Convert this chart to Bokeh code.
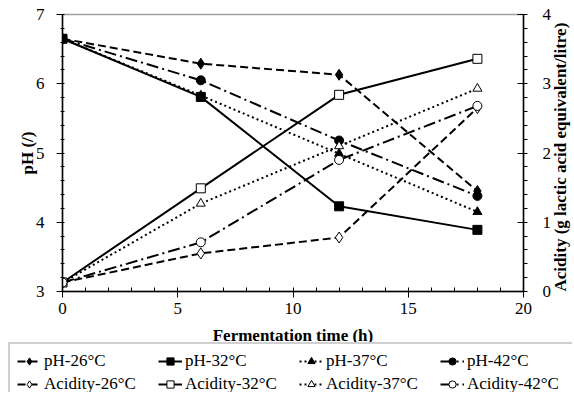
import math
from bokeh.plotting import figure
from bokeh.models import (Range1d, LinearAxis, SingleIntervalTicker, Legend, LegendItem)
from bokeh.embed import file_html
from bokeh.resources import INLINE

time_h = [0, 6, 12, 18]
ph_26 = [6.65, 6.29, 6.13, 4.45]
ph_32 = [6.65, 5.81, 4.23, 3.89]
ph_37 = [6.65, 5.83, 4.99, 4.15]
ph_42 = [6.65, 6.05, 5.18, 4.38]
ac_26 = [0.13, 0.55, 0.78, 2.65]
ac_32 = [0.13, 1.49, 2.84, 3.36]
ac_37 = [0.13, 1.27, 2.10, 2.93]
ac_42 = [0.13, 0.71, 1.90, 2.68]

FONT = "Liberation Serif"
FS = "17px"

p = figure(frame_width=461, frame_height=277, x_range=Range1d(0, 20), y_range=Range1d(3, 7),
           output_backend="svg", toolbar_location=None,
           min_border_left=62, min_border_right=48, min_border_top=14, min_border_bottom=49,
           x_axis_label="Fermentation time (h)", y_axis_label="pH (/)")
p.extra_y_ranges = {"acid": Range1d(0, 4)}
p.grid.visible = False
p.outline_line_color = "#a0a0a0"
p.outline_line_width = 1.5
p.background_fill_color = "white"
p.border_fill_color = "white"

xa = p.xaxis[0]
xa.ticker = SingleIntervalTicker(interval=5, num_minor_ticks=5)
ya = p.yaxis[0]
ya.ticker = SingleIntervalTicker(interval=1, num_minor_ticks=5)
ra = LinearAxis(y_range_name="acid", ticker=SingleIntervalTicker(interval=1, num_minor_ticks=5),
                axis_label="Acidity (g lactic acid equivalent/litre)")
p.add_layout(ra, "right")

for ax in (xa, ya, ra):
    ax.axis_line_color = "black"
    ax.axis_line_width = 1.5
    ax.major_tick_line_color = "black"
    ax.minor_tick_line_color = "black"
    ax.major_label_text_font = FONT
    ax.major_label_text_font_size = FS
    ax.major_label_text_color = "black"
    ax.axis_label_text_font = FONT
    ax.axis_label_text_font_size = "17px"
    ax.axis_label_text_font_style = "bold"
    ax.axis_label_text_color = "black"

xa.major_tick_out = 6
xa.major_tick_in = 0
xa.minor_tick_in = 4
xa.minor_tick_out = 0
xa.major_label_standoff = 5
xa.axis_label_standoff = 9

ya.major_tick_out = 6
ya.major_tick_in = 0
ya.minor_tick_in = 2
ya.minor_tick_out = 2
ya.major_label_standoff = 12
ya.axis_label_standoff = -4

ra.major_tick_out = 0
ra.major_tick_in = 6
ra.minor_tick_in = 0
ra.minor_tick_out = 4
ra.major_label_standoff = 15
ra.axis_label_standoff = 6
ra.axis_label_orientation = math.pi / 2
ra.axis_label_align = "start"
ra.axis_label_text_baseline = "top"

series = [
    ("pH-26°C", ph_26, "default", "dashed_line", "diamond", "black"),
    ("pH-32°C", ph_32, "default", "solid", "square", "black"),
    ("pH-37°C", ph_37, "default", "dotted", "triangle", "black"),
    ("pH-42°C", ph_42, "default", "dashdot", "circle", "black"),
    ("Acidity-26°C", ac_26, "acid", "dashed_line", "diamond", "white"),
    ("Acidity-32°C", ac_32, "acid", "solid", "square", "white"),
    ("Acidity-37°C", ac_37, "acid", "dotted", "triangle", "white"),
    ("Acidity-42°C", ac_42, "acid", "dashdot", "circle", "white"),
]
dashes = {"dashed_line": "8 4", "solid": "solid", "dotted": "2 3", "dashdot": "12 4 2 4"}
sizes = {"diamond": 11, "square": 9, "triangle": 9, "circle": 9}

# legend figure below the chart (separate root, stacked under the chart)
lf = figure(width=572, height=50, x_range=Range1d(0, 1), y_range=Range1d(0, 1),
            output_backend="svg", toolbar_location=None,
            min_border_left=8, min_border_right=0, min_border_top=0, min_border_bottom=0)
lf.styles = {"margin-top": "-5px"}
lf.axis.visible = False
lf.grid.visible = False
lf.outline_line_color = None
lf.background_fill_alpha = 0
lf.border_fill_alpha = 0

items = []
for label, vals, rng, dash, marker, fill in series:
    p.line(time_h, vals, y_range_name=rng, line_color="black", line_width=2,
           line_dash=dashes[dash])
    p.scatter(time_h, vals, y_range_name=rng, marker=marker, size=sizes[marker],
              line_color="black", fill_color=fill, line_width=1)
    # off-range proxies for the legend glyphs
    l1 = lf.line([5, 6], [5, 6], line_color="black", line_width=2, line_dash=dashes[dash])
    l2 = lf.scatter([5], [5], marker=marker, size=7,
                    line_color="black", fill_color=fill, line_width=1)
    items.append(LegendItem(label=label, renderers=[l1, l2]))

legend = Legend(items=items, orientation="horizontal", ncols=4,
                location="top_left",
                label_text_font=FONT, label_text_font_size=FS, label_text_color="black",
                glyph_width=24, glyph_height=18, label_height=18, label_width=111,
                label_standoff=3, spacing=3, padding=7, margin=0,
                border_line_color="#a0a0a0", border_line_width=2,
                background_fill_color="white", background_fill_alpha=1.0)
lf.add_layout(legend, "center")

open("out.html", "w").write(file_html([p, lf], INLINE))
